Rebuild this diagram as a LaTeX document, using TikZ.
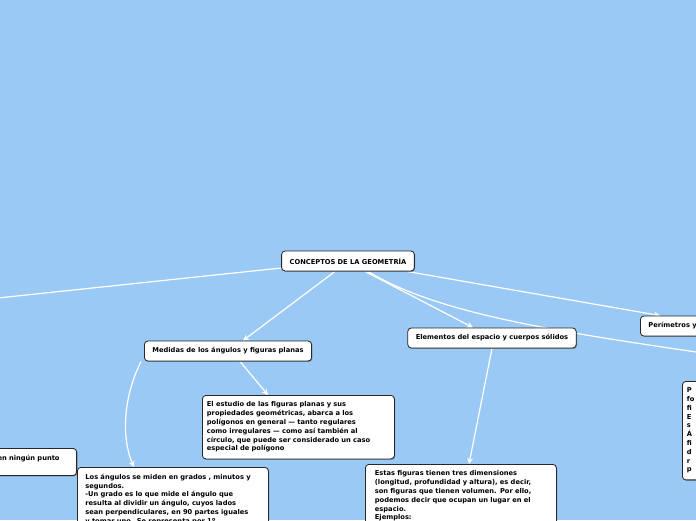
\documentclass[tikz,border=0pt]{standalone}
\usepackage{fontspec}
\setmainfont{DejaVu Sans}
\usetikzlibrary{arrows.meta,positioning,shadows}
\definecolor{mapblue}{HTML}{9BC9F5}
\pgfdeclarelayer{back}
\pgfdeclarelayer{links}
\pgfsetlayers{back,links,main}

\begin{document}
\begin{tikzpicture}[
    x=1pt, y=-1pt,
    font=\fontsize{6.7}{8.8}\selectfont\bfseries,
    topic/.style={draw=black!85, fill=white, rounded corners=3.5pt, line width=0.8pt, inner xsep=8pt, minimum height=20pt,
        drop shadow={shadow xshift=0.8pt, shadow yshift=-0.8pt, opacity=0.6, fill=black!70}},
    note/.style={topic, align=left, inner xsep=4.5pt, inner ysep=6.5pt, anchor=north west},
    line/.style={-{Stealth[length=6pt,width=6pt]}, white, line width=1.2pt}
]
\clip (0,0) rectangle (696,520);
\begin{pgfonlayer}{back}
\fill[mapblue] (0,0) rectangle (696,520);
\end{pgfonlayer}

\node[topic] (root) at (348,261) {CONCEPTOS DE LA GEOMETRÍA};
\node[topic] (medidas) at (228,351) {Medidas de los ángulos y figuras planas};
\node[topic] (elementos) at (492,338) {Elementos del espacio y cuerpos sólidos};
\node[topic, anchor=west] (perimetros) at (640,326) {Perímetros y};
\node[note, anchor=north east, align=right, text width=120pt] (rectas) at (77,448) {en ningún punto\kern12.5pt\\ \mbox{}};
\node[note, text width=183pt] (estudio) at (202,395) {El estudio de las figuras planas y sus\\
    propiedades geométricas, abarca a los\\
    polígonos en general — tanto regulares\\
    como irregulares — como así también al\\
    círculo, que puede ser considerado un caso\\
    especial de polígono};
\node[note, text width=175pt, inner xsep=8pt] (angulos) at (77,467) {Los ángulos se miden en grados , minutos y\\
    segundos.\\
    -Un grado es lo que mide el ángulo que\\
    resulta al dividir un ángulo, cuyos lados\\
    sean perpendiculares, en 90 partes iguales\\
    y tomar uno. Se representa por 1º.};
\node[note, text width=172pt, inner xsep=9.5pt] (estas) at (365,464) {Estas figuras tienen tres dimensiones\\
    (longitud, profundidad y altura), es decir,\\
    son figuras que tienen volumen. Por ello,\\
    podemos decir que ocupan un lugar en el\\
    espacio.\\
    Ejemplos:};
\node[note, text width=60pt] (formulas) at (682,381) {P\\fo\\fi\\E\\s\\Á\\fi\\d\\r\\p};
\coordinate (leftend) at (-40,302);
\coordinate (rightend) at (730,357);

\begin{pgfonlayer}{links}
\draw[white, line width=1.2pt] ([yshift=-7pt]root.west) -- (leftend);
\draw[line] ([xshift=-13pt]root.south) -- ([xshift=15pt]medidas.north);
\draw[line] ([xshift=17pt]root.south) -- ([xshift=-19pt]elementos.north);
\draw[line] ([xshift=-8pt]root.south east) -- ([xshift=20pt]perimetros.north west);
\draw[white, line width=1.2pt] ([xshift=20pt]root.south) .. controls (440,315) and (560,332) .. (rightend);
\draw[line] ([xshift=12pt]medidas.south) -- ([xshift=66pt]estudio.north west);
\draw[line] ([xshift=-3pt]medidas.south west) .. controls (122,400) and (122,440) .. ([xshift=57pt]angulos.north west);
\draw[line] (elementos.south) -- ([xshift=104pt]estas.north west);
\end{pgfonlayer}
\end{tikzpicture}
\end{document}
